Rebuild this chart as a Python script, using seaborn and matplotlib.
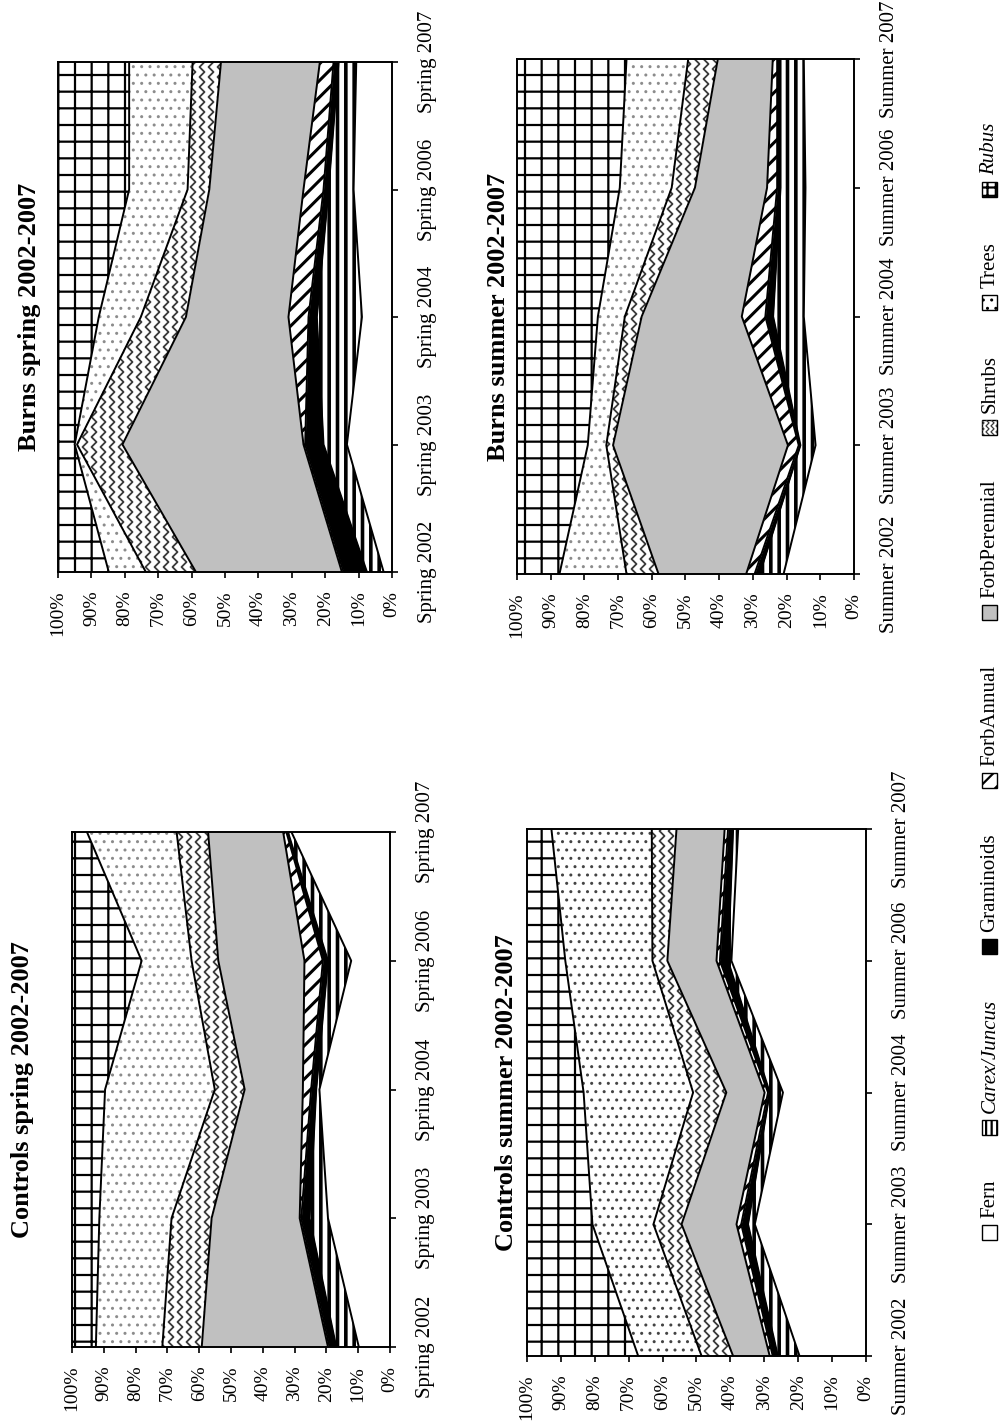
import numpy as np
import matplotlib
matplotlib.use("Agg")
import matplotlib.pyplot as plt
from matplotlib.patches import Rectangle
from matplotlib.lines import Line2D
import seaborn as sns

# ---------------------------------------------------------------- data
categories = ["Fern", "Carex/Juncus", "Graminoids", "ForbAnnual",
              "ForbPerennial", "Shrubs", "Trees", "Rubus"]
spring_labels = ["Spring 2002", "Spring 2003", "Spring 2004", "Spring 2006", "Spring 2007"]
summer_labels = ["Summer 2002", "Summer 2003", "Summer 2004", "Summer 2006", "Summer 2007"]
pct_ticks = [0, 10, 20, 30, 40, 50, 60, 70, 80, 90, 100]

# percent cover, one row per category (same order as `categories`),
# one column per sampling date
burns_spring = [
    [2.5, 13.5, 9.0, 11.5, 10.7],
    [5.0, 7.0, 13.5, 7.5, 5.3],
    [7.0, 5.5, 2.5, 1.5, 1.5],
    [0.5, 0.5, 6.0, 6.0, 4.1],
    [43.7, 54.2, 30.7, 28.2, 29.6],
    [15.0, 13.6, 13.5, 6.5, 8.5],
    [11.1, 0.7, 12.6, 17.5, 19.0],
    [15.2, 5.0, 12.2, 21.3, 21.3],
]
burns_summer = [
    [20.9, 11.4, 14.9, 14.4, 14.9],
    [7.1, 4.5, 9.1, 7.4, 6.9],
    [1.5, 0.5, 2.3, 1.0, 1.0],
    [2.5, 3.2, 7.0, 3.0, 1.3],
    [26.0, 51.9, 29.7, 21.4, 16.3],
    [9.5, 2.0, 5.0, 6.9, 8.8],
    [19.9, 5.5, 8.0, 15.4, 18.3],
    [12.6, 21.0, 24.0, 30.5, 32.5],
]
controls_spring = [
    [9.8, 19.5, 22.2, 12.2, 31.0],
    [7.1, 5.8, 1.0, 7.3, 1.1],
    [2.1, 2.6, 1.6, 1.6, 0.5],
    [0.5, 0.5, 2.6, 5.8, 1.0],
    [39.7, 27.7, 18.3, 27.1, 23.6],
    [12.4, 12.6, 9.4, 8.4, 9.9],
    [20.9, 22.7, 34.5, 15.7, 28.2],
    [7.5, 8.6, 10.4, 21.9, 4.7],
]
controls_summer = [
    [19.6, 32.8, 24.5, 39.7, 37.7],
    [6.4, 2.0, 3.9, 1.0, 1.5],
    [1.5, 2.0, 0.5, 2.4, 1.5],
    [0.9, 1.4, 1.0, 1.0, 1.0],
    [10.8, 16.2, 11.3, 14.5, 14.2],
    [9.3, 8.3, 9.8, 4.4, 7.3],
    [18.7, 18.0, 32.3, 25.7, 29.6],
    [32.8, 19.3, 16.7, 11.3, 7.2],
]

# ---------------------------------------------------------------- style
FIG_W, FIG_H, DPI = 1004, 1423, 100

sns.set_theme(style="white")
plt.rcParams["font.family"] = ["Liberation Serif", "DejaVu Serif"]
plt.rcParams["axes.edgecolor"] = "black"
plt.rcParams["xtick.color"] = "black"
plt.rcParams["ytick.color"] = "black"
plt.rcParams["text.color"] = "black"

cat_style = {
    "Fern":          dict(face="white"),
    "Carex/Juncus":  dict(face="white", hatch="||", hcolor="black", hlw=2.6, lhatch="|||"),
    "Graminoids":    dict(face="black"),
    "ForbAnnual":    dict(face="white", hatch="//", hcolor="black", hlw=2.2, lhatch="//"),
    "ForbPerennial": dict(face="#c0c0c0"),
    "Shrubs":        dict(face="white", zigzag=True),
    "Trees":         dict(face="white", hatch="..", hcolor="#8c8c8c", hlw=1.0, lhatch=".."),
    "Rubus":         dict(face="white", hatch="+", hcolor="black", hlw=1.6, lhatch="++"),
}
ZIG_COLOR = "#3a3a3a"


def px_box(left, top, right, bottom):
    return [left / FIG_W, 1 - bottom / FIG_H, (right - left) / FIG_W, (bottom - top) / FIG_H]


def hatched_fill(ax, y, lo, hi, face, hatch=None, hcolor="black", hlw=1.0):
    with plt.rc_context({"hatch.linewidth": hlw}):
        coll = ax.fill_betweenx(y, lo, hi, facecolor=face,
                                edgecolor=hcolor if hatch else face,
                                linewidth=0, hatch=hatch)
    if hatch and hasattr(coll, "set_hatch_linewidth"):
        coll.set_hatch_linewidth(hlw)
    return coll


def zigzag_lines(width_px, height_px, step=9.0, half=5.0, amp=2.5):
    """Vertical zigzag strokes covering a box, in box-fraction coordinates."""
    n = int(height_px / half) + 3
    yy = (np.arange(n) - 1) * half / height_px
    sign = np.where(np.arange(n) % 2 == 0, -1.0, 1.0)
    xs, ys = [], []
    for cx in np.arange(-step, width_px + step, step):
        xs.extend(list((cx + amp * sign) / width_px) + [np.nan])
        ys.extend(list(yy) + [np.nan])
    return np.array(xs), np.array(ys)


def draw_panel(fig, rect, values, tick_labels, dot_color):
    ax = fig.add_axes(rect)
    vals = np.array(values, dtype=float)
    vals = vals / vals.sum(axis=0) * 100.0
    cum = np.vstack([np.zeros(vals.shape[1]), np.cumsum(vals, axis=0)])
    ypos = np.arange(vals.shape[1])

    for i, cat in enumerate(categories):
        st = cat_style[cat]
        hcolor = dot_color if cat == "Trees" else st.get("hcolor", "black")
        coll = hatched_fill(ax, ypos, cum[i], cum[i + 1], st["face"],
                            st.get("hatch"), hcolor, st.get("hlw", 1.0))
        if st.get("zigzag"):
            zx, zy = zigzag_lines(rect[2] * FIG_W, rect[3] * FIG_H)
            line, = ax.plot(zx, zy, transform=ax.transAxes, color=ZIG_COLOR, lw=1.3)
            line.set_clip_path(coll.get_paths()[0], ax.transData)

    # boundaries between the stacked layers
    for k in range(1, len(categories)):
        sns.lineplot(x=cum[k], y=ypos, orient="y", sort=False, estimator=None,
                     color="black", linewidth=1.4, ax=ax, legend=False)

    ax.set_xlim(100, 0)
    ax.set_ylim(ypos[0], ypos[-1])
    ax.set_xlabel("")
    ax.set_ylabel("")
    ax.set_xticks(pct_ticks)
    ax.set_xticklabels([f"{v}%" for v in pct_ticks], fontsize=14)
    ax.set_yticks(ypos)
    ax.set_yticklabels(tick_labels, fontsize=15)
    ax.yaxis.tick_right()
    ax.tick_params(axis="x", bottom=True, top=False, direction="out",
                   length=4.5, width=1.2, pad=9, labelrotation=90)
    ax.tick_params(axis="y", left=False, right=True, labelleft=False, labelright=True,
                   direction="out", length=4.5, width=1.2, pad=14, labelrotation=90)
    for lab in ax.get_yticklabels():
        lab.set_va("center")
    for sp in ax.spines.values():
        sp.set_visible(True)
        sp.set_color("black")
        sp.set_linewidth(1.4)
        sp.set_zorder(5)
    return ax


fig = plt.figure(figsize=(FIG_W / DPI, FIG_H / DPI), dpi=DPI)
fig.patch.set_facecolor("white")

panels = [
    ("Burns spring 2002-2007", burns_spring, spring_labels, (58, 62, 392, 572), 30, "#8c8c8c"),
    ("Burns summer 2002-2007", burns_summer, summer_labels, (517, 59, 854, 574), 499, "#8c8c8c"),
    ("Controls spring 2002-2007", controls_spring, spring_labels, (72, 832, 390, 1347), 23, "#8c8c8c"),
    ("Controls summer 2002-2007", controls_summer, summer_labels, (527, 829, 866, 1356), 507, "#444444"),
]

for title, vals, labels, box, title_x, dot_color in panels:
    rect = px_box(*box)
    draw_panel(fig, rect, vals, labels, dot_color)
    yc = (box[1] + box[3]) / 2
    fig.text(title_x / FIG_W, 1 - yc / FIG_H, title, rotation=90, ha="center",
             va="center", fontsize=19, fontweight="bold")

# ---------------------------------------------------------------- legend
renderer = fig.canvas.get_renderer()
leg_x = 990
box_px = 15
box_pad = 7
legend_bottom, legend_top = 1240, 123

texts = []
for cat in categories:
    italic = cat in ("Carex/Juncus", "Rubus")
    t = fig.text(0, 0, cat, rotation=90, ha="center", va="bottom", fontsize=15,
                 style="italic" if italic else "normal")
    texts.append(t)
lengths = [t.get_window_extent(renderer).height for t in texts]
span = legend_bottom - legend_top
gap = (span - sum(lengths) - len(categories) * (box_px + box_pad)) / (len(categories) - 1)

y = legend_bottom
for cat, t, L in zip(categories, texts, lengths):
    st = cat_style[cat]
    x0 = (leg_x - box_px / 2) / FIG_W
    y0 = 1 - y / FIG_H
    hatch = st.get("lhatch")
    with plt.rc_context({"hatch.linewidth": min(st.get("hlw", 1.0), 1.6)}):
        rect = Rectangle((x0, y0), box_px / FIG_W, box_px / FIG_H,
                         transform=fig.transFigure, facecolor=st["face"],
                         edgecolor="black", linewidth=1.0, hatch=hatch)
    fig.add_artist(rect)
    if st.get("zigzag"):
        zx, zy = zigzag_lines(box_px, box_px, step=5.0, half=3.0, amp=1.5)
        zl = Line2D(x0 + zx * box_px / FIG_W, y0 + zy * box_px / FIG_H,
                    transform=fig.transFigure, color=ZIG_COLOR, lw=0.9)
        zl.set_clip_path(rect)
        fig.add_artist(zl)
    text_start = y - box_px - box_pad
    t.set_position((leg_x / FIG_W, 1 - text_start / FIG_H))
    y = text_start - L - gap

fig.savefig("out.png", dpi=DPI, facecolor="white")
